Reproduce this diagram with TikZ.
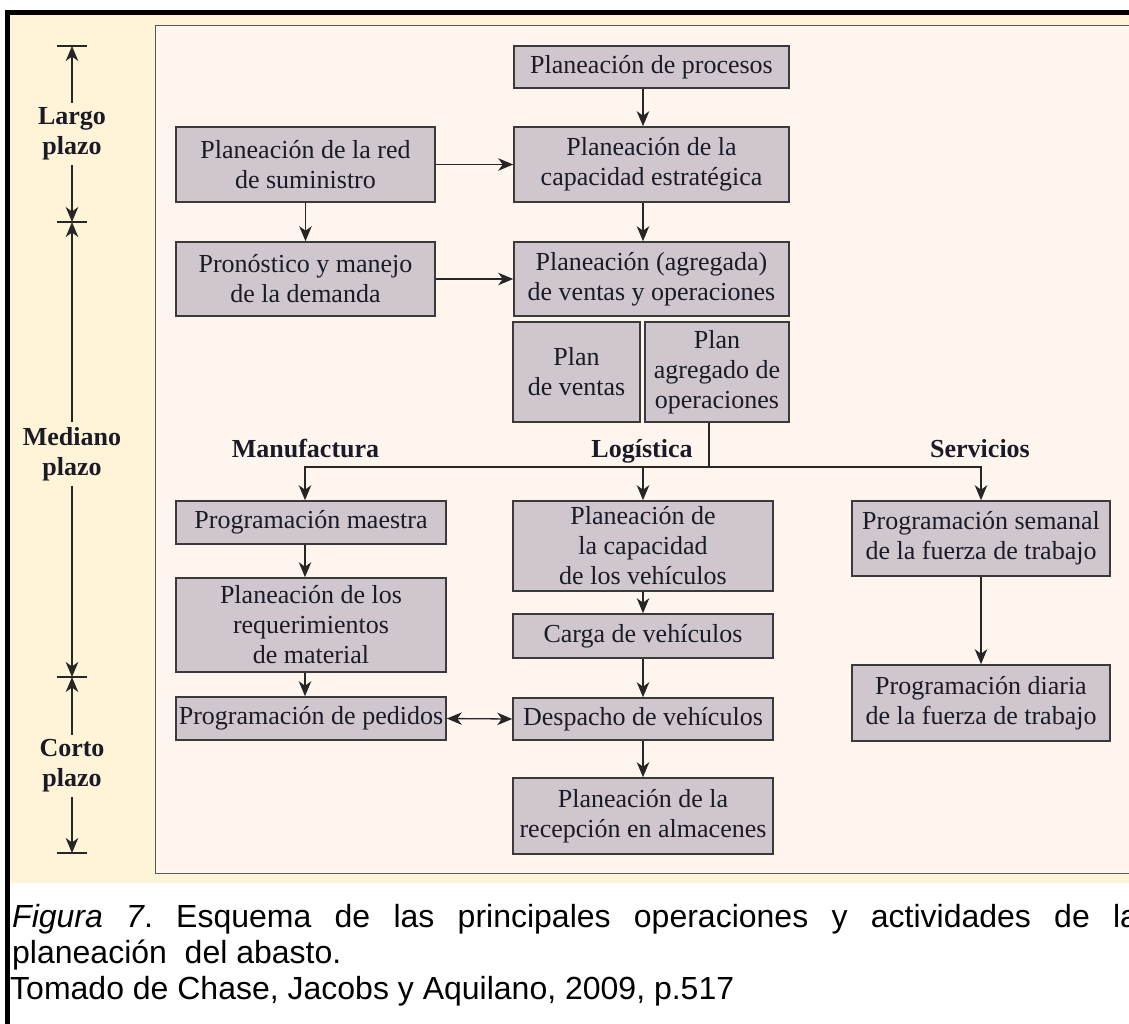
\documentclass[tikz,border=0pt]{standalone}
\usepackage{fontspec}
\setmainfont{Liberation Serif}
\newfontfamily\capfont{Liberation Sans}
\usetikzlibrary{arrows.meta}

\definecolor{creamA}{HTML}{FFF4D8}
\definecolor{paperB}{HTML}{FEF5EF}
\definecolor{boxfill}{HTML}{CFC6CE}
\definecolor{boxline}{HTML}{3A3A3A}
\definecolor{ink}{HTML}{1A1B26}
\definecolor{wire}{HTML}{262626}

\begin{document}
\begin{tikzpicture}[x=1pt,y=-1pt,
  box/.style={draw=boxline, line width=1.6pt, fill=boxfill, text=ink,
    align=center, inner sep=0pt, font=\fontsize{26}{30}\selectfont},
  lab/.style={text=ink, align=center, inner sep=0pt,
    font=\fontsize{26}{30}\selectfont\bfseries},
  span/.style={lab, outer sep=5pt},
  wireline/.style={draw=wire, line width=1.3pt},
  tip/.style={},
  arr/.style={wireline, -{Stealth[length=15pt,width=12.5pt,inset=4.5pt]}},
  darr/.style={wireline, {Stealth[length=15pt,width=12.5pt,inset=4.5pt]}-{Stealth[length=15pt,width=12.5pt,inset=4.5pt]}},
  captext/.style={anchor=base west, inner sep=0pt, text=black,
    font=\capfont\fontsize{32}{36}\selectfont\frenchspacing},
]
\useasboundingbox (0,0) rectangle (1129,1023);
\clip (0,0) rectangle (1129,1023);
\fill[white] (0,0) rectangle (1129,1023);

% frame and backgrounds
\fill[creamA] (10,15) rectangle (1140,883);
\fill[black] (5,10) rectangle (1140,15);
\fill[black] (5,10) rectangle (10,1030);
\draw[draw=black!65, line width=1pt, fill=paperB] (155,25) rectangle (1145,873);

% column guides
\coordinate (colA) at (305,0);
\coordinate (colB) at (643,0);
\coordinate (stem) at (709,467);

% upper blocks
\node[box, minimum width=275, minimum height=42] (proc) at (651.5,67) {Planeación de procesos};
\node[box, minimum width=275, minimum height=75] (estrat) at (651.5,164.5) {Planeación de la\\capacidad estratégica};
\node[box, minimum width=275, minimum height=74] (agreg) at (651.5,279) {Planeación (agregada)\\de ventas y operaciones};
\node[box, minimum width=259, minimum height=75] (red) at (305.5,164.5) {Planeación de la red\\de suministro};
\node[box, minimum width=259, minimum height=74] (pron) at (305.5,279) {Pronóstico y manejo\\de la demanda};
\node[box, minimum width=127, minimum height=100] (pventas) at (576.5,372) {Plan\\de ventas};
\node[box, minimum width=144, minimum height=100] (pagr) at (717,372) {Plan\\agregado de\\operaciones};

% branch headings
\node[lab, anchor=base] (manuf) at (305.5,457) {Manufactura};
\node[lab, anchor=base] (logis) at (642,457) {Logística};
\node[lab, anchor=base] (serv) at (980,457) {Servicios};

% manufacturing
\node[box, minimum width=270, minimum height=43] (maestra) at (311,522.5) {Programación maestra};
\node[box, minimum width=270, minimum height=94] (req) at (311,625) {Planeación de los\\requerimientos\\de material};
\node[box, minimum width=270, minimum height=43] (pedidos) at (311,718.5) {Programación de pedidos};

% logistics
\node[box, minimum width=260, minimum height=90] (capveh) at (643,546) {Planeación de\\la capacidad\\de los vehículos};
\node[box, minimum width=260, minimum height=44] (carga) at (643,636) {Carga de vehículos};
\node[box, minimum width=260, minimum height=42] (despacho) at (643,719) {Despacho de vehículos};
\node[box, minimum width=260, minimum height=76] (recep) at (643,816) {Planeación de la\\recepción en almacenes};

% services
\node[box, minimum width=258, minimum height=75] (semanal) at (981,538.5) {Programación semanal\\de la fuerza de trabajo};
\node[box, minimum width=258, minimum height=76] (diaria) at (981,703) {Programación diaria\\de la fuerza de trabajo};

% connectors
\draw[arr] (proc.south -| colB) -- (estrat.north -| colB);
\draw[arr] (estrat.south -| colB) -- (agreg.north -| colB);
\draw[arr] (red.east) -- (estrat.west);
\draw[arr] (pron.east) -- (agreg.west);
\draw[arr] (red.south) -- (pron.north);
\draw[wireline] (pagr.south -| stem) -- (stem);
\draw[arr] (stem) -| (maestra.north -| colA);
\draw[arr] (stem) -| (capveh.north -| colB);
\draw[arr] (stem) -| (semanal.north);
\draw[arr] (maestra.south -| colA) -- (req.north -| colA);
\draw[arr] (req.south -| colA) -- (pedidos.north -| colA);
\draw[arr] (capveh.south -| colB) -- (carga.north -| colB);
\draw[arr] (carga.south -| colB) -- (despacho.north -| colB);
\draw[arr] (despacho.south -| colB) -- (recep.north -| colB);
\draw[darr] (pedidos.east) -- (despacho.west);
\draw[arr] (semanal.south) -- (diaria.north);

% planning horizon scale
\coordinate (t1) at (72,46);
\coordinate (t2) at (72,222);
\coordinate (t3) at (72,677);
\coordinate (t4) at (72,853);
\foreach \t in {t1,t2,t3,t4}
  \draw[wireline] ([xshift=-15pt]\t) -- ([xshift=15pt]\t);
\node[span] (largo) at (72,134) {Largo\\plazo};
\node[span] (mediano) at (72,454) {Mediano\\plazo};
\node[span] (corto) at (72,766) {Corto\\plazo};
\draw[arr] (largo.north) -- (t1);
\draw[arr] (largo.south) -- (t2);
\draw[arr] (mediano.north) -- (t2);
\draw[arr] (mediano.south) -- (t3);
\draw[arr] (corto.north) -- (t3);
\draw[arr] (corto.south) -- (t4);

% caption
\node[captext] (cap1) at (12,927) {\makebox[1126pt][s]{\textit{Figura 7}. Esquema de las principales operaciones y actividades de la}};
\node[captext] (cap2) at (12,963) {planeación\ \ del abasto.};
\node[captext] (cap3) at (10,999) {Tomado de Chase, Jacobs y Aquilano, 2009, p.517};
\end{tikzpicture}
\end{document}
